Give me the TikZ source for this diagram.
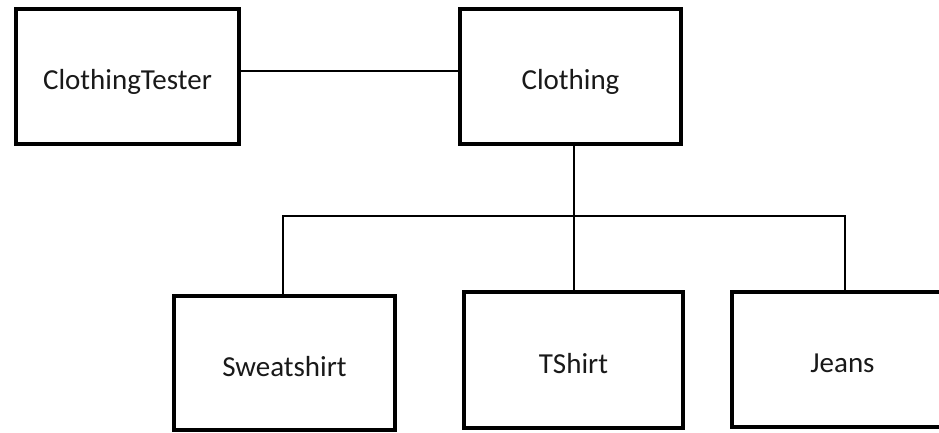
\documentclass[tikz,border=0pt]{standalone}
\usepackage{fontspec}
\setmainfont{Carlito}
\begin{document}
\begin{tikzpicture}[x=1pt,y=-1pt,
  classbox/.style={draw=black, line width=4pt, fill=white, rectangle, inner sep=0pt,
    text height=31pt, text depth=5pt,
    font=\fontsize{29}{34}\selectfont, text=black!90},
  link/.style={draw=black, line width=2pt}]
\clip (0,0) rectangle (939,433);
\fill[white] (0,0) rectangle (939,433);
\node[classbox, minimum width=223pt, minimum height=135pt] (tester) at (127.5,76.5) {ClothingTester};
\node[classbox, minimum width=221pt, minimum height=135pt] (clothing) at (570.5,76.5) {Clothing};
\node[classbox, minimum width=221pt, minimum height=134pt] (sweat) at (284.5,363) {Sweatshirt};
\node[classbox, minimum width=219pt, minimum height=136pt] (tshirt) at (573.5,360) {TShirt};
\node[classbox, minimum width=221pt, minimum height=135pt] (jeans) at (842.5,359.5) {Jeans};
\coordinate (lineY) at (0,71);
\coordinate (bus) at (573.5,216);
\draw[link] (tester.east |- lineY) -- (clothing.west |- lineY);
\draw[link] (tshirt.north) -- (tshirt.north |- clothing.south);
\draw[link] ([xshift=-1.5pt]sweat.north) |- (bus) -| ([xshift=2.5pt]jeans.north);
\end{tikzpicture}
\end{document}
